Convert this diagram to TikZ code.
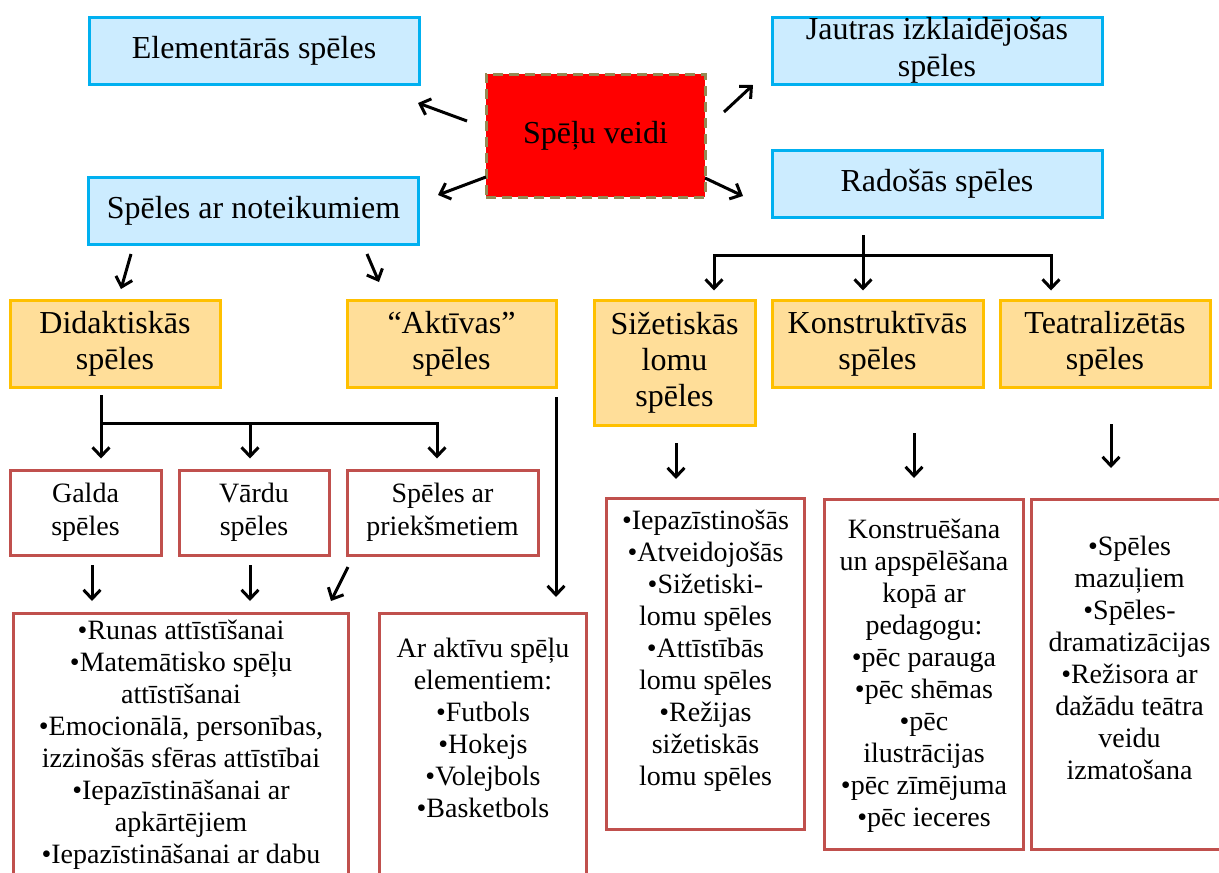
\documentclass[tikz,border=0pt]{standalone}
\usepackage{fontspec}
\setmainfont{Liberation Serif}
\usetikzlibrary{arrows.meta}

\definecolor{boxblue}{RGB}{0,176,240}
\definecolor{fillblue}{RGB}{204,236,255}
\definecolor{boxgold}{RGB}{255,192,0}
\definecolor{fillgold}{RGB}{255,222,153}
\definecolor{boxrose}{RGB}{192,80,77}
\definecolor{boxolive}{RGB}{148,138,84}

\tikzset{
  kindbox/.style={draw=boxblue, fill=fillblue, line width=3pt, minimum width=330pt, minimum height=67pt,
    align=center, inner sep=0pt, font=\fontsize{32}{37}\selectfont},
  rootbox/.style={draw=boxolive, fill=red, line width=3pt, dash pattern=on 10pt off 6pt,
    minimum width=219pt, minimum height=123pt, font=\fontsize{32}{36}\selectfont},
  groupbox/.style={draw=boxgold, fill=fillgold, line width=3pt, minimum height=87pt,
    align=center, inner sep=0pt, font=\fontsize{32}{36}\selectfont},
  subbox/.style={draw=boxrose, fill=white, line width=3pt, minimum height=85pt,
    align=center, inner sep=0pt, font=\fontsize{28}{33}\selectfont},
  listframe/.style={draw=boxrose, fill=white, line width=3pt, anchor=north west, inner sep=0pt},
  listtext/.style={anchor=north, align=center, inner sep=0pt, font=\fontsize{28}{32}\selectfont},
  arr/.style={line width=3pt, -{Straight Barb[length=9pt,width=17pt]}},
  link/.style={line width=3pt},
}

\begin{document}
\begin{tikzpicture}[x=1pt, y=-1pt]
            \useasboundingbox (0,0) rectangle (1219,873);
            \clip (0,0) rectangle (1219,873);

            \node[rootbox] (veidi) at (595.5,135.5) {Spēļu veidi};
            \node[kindbox] (elem) at (254,50.5) {Elementārās spēles};
            \node[kindbox] (jautras) at (937,50.5) {Jautras izklaidējošas\\spēles};
            \node[kindbox] (noteik) at (253.5,210.5) {Spēles ar noteikumiem};
            \node[kindbox] (rados) at (937,183.5) {Radošās spēles};

            \node[groupbox, minimum width=210pt] (didakt) at (115,343.5) {Didaktiskās\\spēles};
            \node[groupbox, minimum width=209pt] (aktiv) at (451.5,343.5) {“Aktīvas”\\spēles};
            \node[groupbox, minimum width=161pt, minimum height=125pt] (sizet) at (674.5,362.5) {Sižetiskās\\lomu\\spēles};
            \node[groupbox, minimum width=211pt] (konstr) at (877.5,343.5) {Konstruktīvās\\spēles};
            \node[groupbox, minimum width=210pt] (teatr) at (1105,343.5) {Teatralizētās\\spēles};

            \node[subbox, minimum width=151pt] (galda) at (85.5,512.5) {Galda\\spēles};
            \node[subbox, minimum width=150pt] (vardu) at (254,512.5) {Vārdu\\spēles};
            \node[subbox, minimum width=191pt] (prieksm) at (442.5,512.5) {Spēles ar\\priekšmetiem};

            \node[listframe, minimum width=335pt, minimum height=280pt] (runasbox) at (12,612) {};
            \node[listframe, minimum width=207pt, minimum height=280pt] (aktivubox) at (378,612) {};
            \node[listframe, minimum width=198pt, minimum height=331pt] (sizetbox) at (605,497) {};
            \node[listframe, minimum width=199pt, minimum height=350pt] (konstrbox) at (823,498) {};
            \node[listframe, minimum width=196pt, minimum height=350pt] (teatrbox) at (1030,498) {};

            \node[listtext] (runas) at ([yshift=-8pt]runasbox.north) {•Runas attīstīšanai\\•Matemātisko spēļu\\attīstīšanai\\•Emocionālā, personības,\\izzinošās sfēras attīstībai\\•Iepazīstināšanai ar\\apkārtējiem\\•Iepazīstināšanai ar dabu};
            \node[listtext] (aktivu) at ([yshift=-26pt]aktivubox.north) {Ar aktīvu spēļu\\elementiem:\\•Futbols\\•Hokejs\\•Volejbols\\•Basketbols};
            \node[listtext] (sizetl) at ([yshift=-13pt]sizetbox.north) {•Iepazīstinošās\\•Atveidojošās\\•Sižetiski-\\lomu spēles\\•Attīstībās\\lomu spēles\\•Režijas\\sižetiskās\\lomu spēles};
            \node[listtext] (konstrl) at ([yshift=-21pt]konstrbox.north) {Konstruēšana\\un apspēlēšana\\kopā ar\\pedagogu:\\•pēc parauga\\•pēc shēmas\\•pēc\\ilustrācijas\\•pēc zīmējuma\\•pēc ieceres};
            \node[listtext] (teatrl) at ([yshift=-38pt]teatrbox.north) {•Spēles\\mazuļiem\\•Spēles-\\dramatizācijas\\•Režisora ar\\dažādu teātra\\veidu\\izmatošana};

            \coordinate (ve-a) at (467,121);  \coordinate (ve-b) at (418,103);
            \coordinate (vn-a) at (486,177);  \coordinate (vn-b) at (438,195);
            \coordinate (vj-a) at (724,112);  \coordinate (vj-b) at (753,85);
            \coordinate (vr-a) at (705,178);  \coordinate (vr-b) at (743,196);
            \coordinate (nd-a) at (131,254);  \coordinate (nd-b) at (121,289);
            \coordinate (na-a) at (367,254);  \coordinate (na-b) at (379,282);
            \draw[arr] (ve-a) -- (ve-b);
            \draw[arr] (vn-a) -- (vn-b);
            \draw[arr] (vj-a) -- (vj-b);
            \draw[arr] (vr-a) -- (vr-b);
            \draw[arr] (nd-a) -- (nd-b);
            \draw[arr] (na-a) -- (na-b);

            \coordinate (r-top) at (863,235);
            \coordinate (r-mid) at (863,255);
            \coordinate (r-left) at (714,255);
            \coordinate (r-right) at (1051,255);
            \draw[link] (r-top) -- (r-mid);
            \draw[arr, shorten >=8pt] (r-mid) -| (r-left |- sizet.north);
            \draw[arr, shorten >=8pt] (r-mid) -- (r-mid |- konstr.north);
            \draw[arr, shorten >=8pt] (r-mid) -| (r-right |- teatr.north);

            \coordinate (d-top) at (101,395);
            \coordinate (d-left) at (101,423);
            \coordinate (d-mid) at (250,423);
            \coordinate (d-right) at (437,423);
            \draw[arr, shorten >=10pt] (d-top) -- (d-left |- galda.north);
            \draw[arr, shorten >=10pt] (d-left) -| (d-mid |- vardu.north);
            \draw[arr, shorten >=10pt] (d-left) -| (d-right |- prieksm.north);

            \coordinate (a-top) at (556,397);
            \draw[arr, shorten >=15pt] (a-top) -- (a-top |- aktivubox.north);

            \coordinate (g-a) at (92,565);   \coordinate (g-b) at (92,601);
            \coordinate (w-a) at (250,565);  \coordinate (w-b) at (250,601);
            \coordinate (p-a) at (348,567);  \coordinate (p-b) at (331,601);
            \draw[arr] (g-a) -- (g-b);
            \draw[arr] (w-a) -- (w-b);
            \draw[arr] (p-a) -- (p-b);

            \coordinate (s-a) at (676,443);  \coordinate (s-b) at (676,479);
            \coordinate (k-a) at (914,433);  \coordinate (k-b) at (914,478);
            \coordinate (t-a) at (1111,424); \coordinate (t-b) at (1111,468);
            \draw[arr] (s-a) -- (s-b);
            \draw[arr] (k-a) -- (k-b);
            \draw[arr] (t-a) -- (t-b);
        \end{tikzpicture}
\end{document}
